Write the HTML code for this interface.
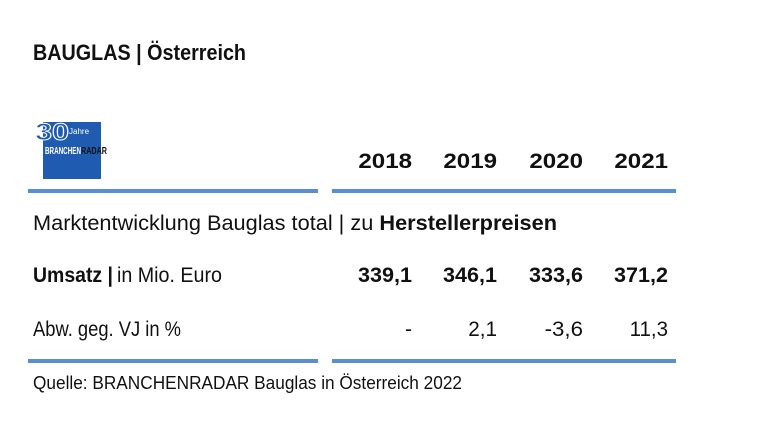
<!DOCTYPE html>
<html><head><meta charset="utf-8">
<style>
html,body{margin:0;padding:0;background:#fff;}
svg{display:block;}
text{font-family:"Liberation Sans",sans-serif;fill:#111;}
</style></head>
<body>
<svg width="768" height="441" viewBox="0 0 768 441">
<text x="33" y="60" font-size="22" font-weight="bold" textLength="213" lengthAdjust="spacingAndGlyphs">BAUGLAS | Österreich</text>

<g>
<rect x="43" y="122" width="58" height="57" fill="#1f5bb0"/>
<text x="35" y="140" font-size="24" font-weight="bold" style="fill:#1f5bb0;stroke:#fff;stroke-width:1" textLength="34" lengthAdjust="spacingAndGlyphs">30</text>
<text x="69" y="134" font-size="8" style="fill:#fff">Jahre</text>
<text x="45" y="154" font-size="10" font-weight="bold" style="fill:#fff" textLength="36" lengthAdjust="spacingAndGlyphs">BRANCHEN</text>
<text x="81" y="154" font-size="10" font-weight="bold" textLength="26" lengthAdjust="spacingAndGlyphs">RADAR</text>
</g>

<g id="years"></g>

<rect x="28" y="189" width="290" height="4" fill="#5a8ed2"/>
<rect x="332" y="189" width="344" height="4" fill="#5a8ed2"/>

<text x="33" y="230" font-size="21" textLength="524" lengthAdjust="spacingAndGlyphs">Marktentwicklung Bauglas total | zu <tspan font-weight="bold">Herstellerpreisen</tspan></text>

<text x="33" y="282" font-size="21"><tspan font-weight="bold" textLength="80" lengthAdjust="spacingAndGlyphs">Umsatz |</tspan></text>
<text x="117" y="282" font-size="21" textLength="105" lengthAdjust="spacingAndGlyphs">in Mio. Euro</text>
<g id="revenue"></g>

<text x="33" y="336" font-size="21" textLength="148" lengthAdjust="spacingAndGlyphs">Abw. geg. VJ in %</text>
<g id="change"></g>

<rect x="28" y="359" width="290" height="4" fill="#5a8ed2"/>
<rect x="332" y="359" width="344" height="4" fill="#5a8ed2"/>

<text x="33" y="389" font-size="18" textLength="429" lengthAdjust="spacingAndGlyphs">Quelle: BRANCHENRADAR Bauglas in Österreich 2022</text>
</svg>
<script>
const years = ["2018","2019","2020","2021"];
const revenue = ["339,1","346,1","333,6","371,2"];
const change = ["-","2,1","-3,6","11,3"];
const NS="http://www.w3.org/2000/svg";
const colRight=[412,497,583,668];
function addRow(gid,arr,y,bold,charW,name){
  const g=document.getElementById(gid);
  arr.forEach((v,i)=>{
    const t=document.createElementNS(NS,"text");
    t.setAttribute("x",colRight[i]);
    t.setAttribute("y",y);
    t.setAttribute("text-anchor","end");
    t.setAttribute("font-size",21);
    if(bold)t.setAttribute("font-weight","bold");
    if(v.length>1){t.setAttribute("textLength",(v.length*charW).toFixed(1));t.setAttribute("lengthAdjust","spacingAndGlyphs");}
    t.textContent=v;
    
    
    g.appendChild(t);
  });
}
addRow("years",years,168,true,13.4,"year-header");
addRow("revenue",revenue,282,true,10.8,"revenue-value");
addRow("change",change,336,false,9.6,"change-value");
</script>
</body></html>
